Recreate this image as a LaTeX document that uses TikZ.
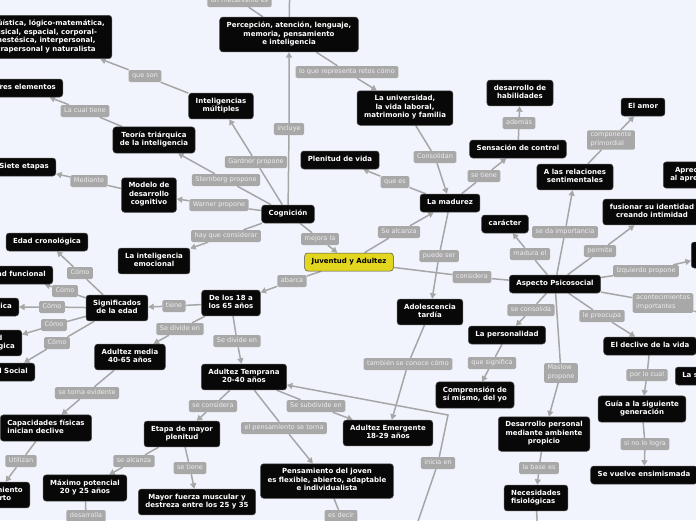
\documentclass[tikz,border=0pt]{standalone}
\usepackage{fontspec}
\setmainfont{DejaVu Sans}
\usetikzlibrary{arrows.meta,backgrounds}

\definecolor{sfondo}{RGB}{242,244,253}
\definecolor{nero}{RGB}{8,8,8}
\definecolor{grigio}{RGB}{168,168,168}
\definecolor{testogr}{RGB}{238,238,238}
\definecolor{giallo}{RGB}{226,214,30}
\definecolor{linea}{RGB}{166,166,166}

\begin{document}
\begin{tikzpicture}[x=1pt,y=-1pt,
  nodo/.style={fill=nero, draw=gray!60!black, line width=0.5pt, text=white,
    font=\fontsize{7}{8.6}\selectfont\bfseries, rounded corners=3pt,
    inner xsep=7pt, inner ysep=4.7pt, align=center,
    execute at begin node=\strut, execute at end node=\strut},
  centro/.style={nodo, fill=giallo, draw=black!70, text=black},
  etic/.style={fill=grigio, text=testogr, font=\fontsize{6.5}{9}\selectfont,
    rounded corners=1.5pt, inner xsep=3.5pt, inner ysep=1.5pt, align=left,
    execute at begin node=\strut, execute at end node=\strut},
  conn/.style={draw=linea, line width=1.5pt, -{Triangle[length=5.5pt,width=6pt]}},
  linea/.style={draw=linea, line width=1.5pt}]

\useasboundingbox (0,0) rectangle (696,520);

% Nodo centrale
\node[centro] (juv) at (349,262) {Juventud y Adultez};

% Ramo della cognizione
\node[nodo] (cogn) at (288,214) {Cognición};
\node[nodo] (percep) at (289,34.5) {Percepción, atención, lenguaje,\\memoria, pensamiento\\e inteligencia};
\node[nodo] (univ) at (405,108) {La universidad,\\la vida laboral,\\matrimonio y familia};
\node[nodo] (multiint) at (221,106) {Inteligencias\\múltiples};
\node[nodo, anchor=east] (tipi) at (112,37) {Lingüística, lógico-matemática,\\musical, espacial, corporal-\\kinestésica, interpersonal,\\intrapersonal y naturalista};
\node[nodo, anchor=east] (tres) at (63,88) {Tres elementos};
\node[nodo] (teoria) at (154,140) {Teoría triárquica\\de la inteligencia};
\node[nodo, anchor=east] (siete) at (56,167) {Siete etapas};
\node[nodo] (modelo) at (149,195) {Modelo de\\desarrollo\\cognitivo};
\node[nodo] (emoc) at (154,261) {La inteligencia\\emocional};

% Ramo della maturita
\node[nodo] (madur) at (450,203) {La madurez};
\node[nodo] (plen) at (340,160) {Plenitud de vida};
\node[nodo] (sens) at (518,149) {Sensación de control};
\node[nodo] (habil) at (520,93) {desarrollo de\\habilidades};
\node[nodo] (adoles) at (430,312) {Adolescencia\\tardía};
\node[nodo] (emerg) at (388,433) {Adultez Emergente\\18-29 años};

% Aspetto psicosociale
\node[nodo] (asp) at (555,284) {Aspecto Psicosocial};
\node[nodo] (relac) at (575,177) {A las relaciones\\sentimentales};
\node[nodo] (amor) at (643,107) {El amor};
\node[nodo, anchor=west] (aprec) at (663,175) {Apreciación\\al aprendizaje};
\node[nodo] (fusion) at (652,212) {fusionar su identidad\\creando intimidad};
\node[nodo] (carac) at (505,224) {carácter};
\node[nodo, anchor=west, minimum width=50pt, minimum height=26pt] (destra) at (691,255) {};
\node[nodo] (declive) at (650,346) {El declive de la vida};
\node[nodo, anchor=west] (lasat) at (675,376) {La satisfacción};
\node[nodo] (guia) at (642,409) {Guía a la siguiente\\generación};
\node[nodo] (ensim) at (644,475) {Se vuelve ensimismada};
\node[nodo] (person) at (507,335) {La personalidad};
\node[nodo, align=left] (compr) at (475,395) {Comprensión de\\sí mismo, del yo};
\node[nodo] (despers) at (544,434) {Desarrollo personal\\mediante ambiente\\propicio};
\node[nodo, align=left] (necfis) at (536,498) {Necesidades\\fisiológicas};

% Ramo dell'eta
\node[nodo] (de18) at (231,303) {De los 18 a\\los 65 años};
\node[nodo] (signif) at (117,308) {Significados\\de la edad};
\node[nodo] (edcron) at (47,242) {Edad cronológica};
\node[nodo, anchor=east] (edfunc) at (53,275) {Edad funcional};
\node[nodo, anchor=east] (edbio) at (19,307) {Edad biológica};
\node[nodo, anchor=east] (edpsi) at (22,343) {Edad\\psicológica};
\node[nodo, anchor=east] (edsoc) at (35,372) {Rol Social};
\node[nodo] (admedia) at (130,357) {Adultez media\\40-65 años};
\node[nodo, align=left] (capac) at (46,428) {Capacidades físicas\\inician declive};
\node[nodo, anchor=east] (conoc) at (30,495) {Conocimiento\\experto};
\node[nodo] (adtemp) at (244,377) {Adultez Temprana\\20-40 años};
\node[nodo] (etapa) at (182,434) {Etapa de mayor\\plenitud};
\node[nodo] (maximo) at (85,488) {Máximo potencial\\20 y 25 años};
\node[nodo] (fuerza) at (197,502) {Mayor fuerza muscular y\\destreza entre los 25 y 35};
\node[nodo] (pensj) at (327,481) {Pensamiento del joven\\es flexible, abierto, adaptable\\e individualista};

% Etichette
\node[etic] (l_mec) at (239.5,1) {un mecanismo es};
\node[etic] (l_retos) at (347,72) {lo que representa retos cómo};
\node[etic] (l_cons) at (435,157) {Consolidan};
\node[etic] (l_queson) at (145,76) {que son};
\node[etic] (l_cual) at (85,111) {La cual tiene};
\node[etic] (l_med) at (89,181) {Mediante};
\node[etic] (l_stern) at (226,180) {Sternberg propone};
\node[etic] (l_gard) at (256,162) {Gardner propone};
\node[etic] (l_incl) at (289,129) {incluye};
\node[etic] (l_warn) at (219,205) {Warner propone};
\node[etic] (l_hay) at (226,236) {hay que considerar};
\node[etic] (l_mej) at (320,239) {mejora la};
\node[etic] (l_alc) at (399,232) {Se alcanza};
\node[etic] (l_quees) at (395,182) {que es};
\node[etic] (l_setiene) at (484,176) {se tiene};
\node[etic] (l_ademas) at (519,123) {además};
\node[etic] (l_comp) at (611,140) {componente\\primordial};
\node[etic] (l_sedaimp) at (565,232) {se da importancia};
\node[etic] (l_madura) at (530,254) {madura el};
\node[etic] (l_permite) at (600,251) {permite};
\node[etic] (l_izq) at (646,271) {Izquierdo propone};
\node[etic] (l_consid) at (472,277) {considera};
\node[etic] (l_acont) at (663,303) {acontecimientos\\importantes};
\node[etic] (l_preoc) at (602,316) {le preocupa};
\node[etic] (l_porloc) at (647,375) {por lo cual};
\node[etic] (l_sinolo) at (645,444) {si no lo logra};
\node[etic] (l_seconsol) at (531,310) {se consolida};
\node[etic] (l_quesig) at (492,363) {que significa};
\node[etic] (l_maslow) at (561,373) {Maslow\\propone};
\node[etic] (l_base) at (539,468) {la base es};
\node[etic] (l_puede) at (439,256) {puede ser};
\node[etic] (l_tamb) at (408,364) {también se conoce cómo};
\node[etic] (l_inicia) at (438,463) {inicia en};
\node[etic] (l_divide1) at (237,341) {Se divide en};
\node[etic] (l_abarca) at (292,281) {abarca};
\node[etic] (l_tiene) at (174,306) {tiene};
\node[etic] (l_divide2) at (180,329) {Se divide en};
\node[etic] (l_torna) at (87,393) {se torna evidente};
\node[etic] (l_utiliz) at (21,461) {Utilizan};
\node[etic] (l_secons) at (213,406) {se considera};
\node[etic] (l_sealc) at (134,461) {se alcanza};
\node[etic] (l_setiene2) at (190,468) {se tiene};
\node[etic] (l_desarr) at (86,516) {desarrolla};
\node[etic] (l_pensat) at (284,428) {el pensamiento se torna};
\node[etic] (l_subdiv) at (316,406) {Se subdivide en};
\node[etic] (l_esdecir) at (341,516) {es decir};
\foreach \n/\x/\y in {1/80/273, 2/65/291, 3/52/307, 4/54/325, 5/57/343}
  \node[etic] (l_como\n) at (\x,\y) {Cómo};

% Estremi fuori dal foglio
\coordinate (su1) at (290,-30);
\coordinate (su2) at (210,-15);
\coordinate (acont_fine) at (720,318);
\coordinate (nec_fine) at (538,540);
\coordinate (des_fine) at (86,540);
\coordinate (dec_fine) at (345,540);
\coordinate (inizio) at (415,530);
\coordinate (angolo) at (448,415);

\begin{pgfonlayer}{background}
\fill[sfondo] (0,0) rectangle (696,520);

% Connessioni
\draw[linea] (percep) -- (su1);
\draw[linea] (percep) -- (l_mec) -- (su2);
\draw[conn] (cogn) -- (l_incl) -- (percep);
\draw[conn] (percep) -- (l_retos) -- (univ);
\draw[conn] (univ) -- (l_cons) -- (madur);
\draw[conn] (multiint) -- (l_queson) -- (tipi);
\draw[conn] (teoria) -- (l_cual) -- (tres);
\draw[conn] (modelo) -- (l_med) -- (siete);
\draw[conn] (cogn) -- (l_stern) -- (teoria);
\draw[conn] (cogn) -- (l_gard) -- (multiint);
\draw[conn] (cogn) -- (l_warn) -- (modelo);
\draw[conn] (cogn) -- (l_hay) -- (emoc);
\draw[conn] (cogn) -- (l_mej) -- (juv);
\draw[conn] (juv) -- (l_alc) -- (madur);
\draw[conn] (madur) -- (l_quees) -- (plen);
\draw[conn] (madur) -- (l_setiene) -- (sens);
\draw[conn] (sens) -- (l_ademas) -- (habil);
\draw[conn] (relac) -- (l_comp) -- (amor);
\draw[conn] (asp) -- (l_sedaimp) -- (relac);
\draw[conn] (asp) -- (l_madura) -- (carac);
\draw[conn] (asp) -- (l_permite) -- (fusion);
\draw[conn] (asp) -- (l_izq) -- (destra);
\draw[linea] (juv) -- (l_consid) -- (asp);
\draw[linea] (asp) -- (l_acont) -- (acont_fine);
\draw[conn] (asp) -- (l_preoc) -- (declive);
\draw[conn] (declive) -- (l_porloc) -- (guia);
\draw[conn] (guia) -- (l_sinolo) -- (ensim);
\draw[conn] (asp) -- (l_seconsol) -- (person);
\draw[conn] (person) -- (l_quesig) -- (compr);
\draw[conn] (asp) -- (l_maslow) -- (despers);
\draw[conn] (despers) -- (l_base) -- (necfis);
\draw[linea] (necfis) -- (nec_fine);
\draw[conn] (madur) -- (l_puede) -- (adoles);
\draw[conn] (adoles) -- (l_tamb) -- (emerg);
\draw[conn] (inizio) -- (l_inicia) -- (angolo) -- (adtemp);
\draw[conn] (juv) -- (l_abarca) -- (de18);
\draw[conn] (de18) -- (l_divide1) -- (adtemp);
\draw[conn] (de18) -- (l_tiene) -- (signif);
\draw[conn] (de18) -- (l_divide2) -- (admedia);
\foreach \n/\dest in {1/edcron, 2/edfunc, 3/edbio, 4/edpsi, 5/edsoc}
  \draw[conn] (signif) -- (l_como\n) -- (\dest);
\draw[conn] (admedia) -- (l_torna) -- (capac);
\draw[conn] (capac) -- (l_utiliz) -- (conoc);
\draw[conn] (adtemp) -- (l_secons) -- (etapa);
\draw[conn] (etapa) -- (l_sealc) -- (maximo);
\draw[conn] (etapa) -- (l_setiene2) -- (fuerza);
\draw[linea] (maximo) -- (l_desarr) -- (des_fine);
\draw[conn] (adtemp) -- (l_pensat) -- (pensj);
\draw[conn] (adtemp) -- (l_subdiv) -- (emerg);
\draw[linea] (pensj) -- (l_esdecir) -- (dec_fine);
\end{pgfonlayer}

\end{tikzpicture}
\end{document}
